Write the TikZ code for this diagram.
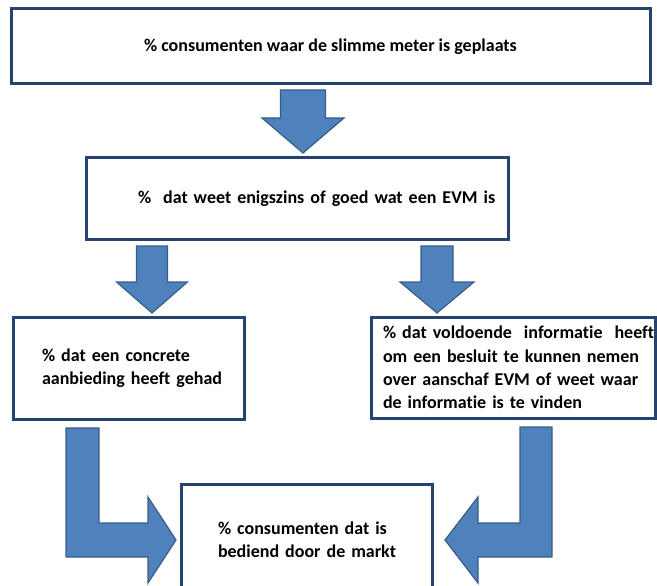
\documentclass[tikz,border=0pt]{standalone}
\usepackage{fontspec}
\setmainfont[Ligatures=NoCommon]{Carlito}
\usetikzlibrary{calc}

\definecolor{boxblue}{RGB}{38,66,112}
\definecolor{arrowfill}{RGB}{79,129,189}
\definecolor{arrowline}{RGB}{56,93,138}

\tikzset{
	box/.style={draw=boxblue, line width=3pt, fill=white, font=\bfseries\fontsize{18}{23.4}\selectfont},
	fatarrow/.style={fill=arrowfill, draw=arrowline, line width=1.2pt, line join=miter},
}

% fat arrow pointing down: #1 start, #2 tip, #3 half shaft, #4 half head, #5 head length
\newcommand{\fatdown}[5]{%
	\draw[fatarrow] let \p1=(#1), \p2=(#2) in
		(\x1-#3pt,\y1) -- (\x1+#3pt,\y1) -- (\x1+#3pt,\y2+#5pt) -- (\x1+#4pt,\y2+#5pt)
		-- (\x1,\y2) -- (\x1-#4pt,\y2+#5pt) -- (\x1-#3pt,\y2+#5pt) -- cycle;}

\begin{document}
\begin{tikzpicture}[x=1pt, y=-1pt]
		\useasboundingbox (0,0) rectangle (657,586);
		\clip (0,0) rectangle (657,586);

		\node[box, minimum width=639pt, minimum height=75pt] (meter) at (330.5,46.5) {\% consumenten waar de slimme meter is geplaats};
		\node[box, minimum height=81pt, text width=318pt, inner xsep=52pt, align=left] (evm) at (297,198.5) {\mbox{\%\ \ dat weet enigszins of goed wat een EVM is}};

		\node[box, minimum height=102pt, text width=173pt, inner xsep=29pt, align=left] (aanbod) at (128.5,368) {\mbox{\% dat een concrete}\\\mbox{aanbieding heeft gehad}};
		\node[box, minimum height=101pt, text width=260pt, inner xsep=12pt, align=left] (info) at (513,367.5) {\mbox{\% dat voldoende\ \ informatie\ \ heeft}\\\mbox{om een besluit te kunnen nemen}\\\mbox{over aanschaf EVM of weet waar}\\\mbox{de informatie is te vinden}};

		\node[box, minimum height=112pt, text width=177pt, inner xsep=37pt, align=left] (markt) at (306.5,540) {\mbox{\% consumenten dat is}\\\mbox{bediend door de markt}};

		% arrows down
		\fatdown{[xshift=-27.5pt,yshift=-4.5pt]meter.south}{[yshift=3.5pt]evm.north}{22.5}{41}{35}
		\fatdown{[xshift=-145pt,yshift=-5.5pt]evm.south}{[yshift=2.5pt]aanbod.north}{15.5}{35.5}{31}
		\fatdown{[xshift=140pt,yshift=-5.5pt]evm.south}{[yshift=2.5pt]info.north}{16}{37}{31}

		% bent arrows into the market box
		\draw[fatarrow] let \p1=([yshift=-7.5pt]aanbod.south west), \p2=(markt.west) in
			(\x1+54.5pt,\y1) -- (\x1+87.5pt,\y1) -- (\x1+87.5pt,\y2+17pt) -- (\x2-31.5pt,\y2+17pt)
			-- (\x2-31.5pt,\y2+43pt) -- (\x2-3.5pt,\y2) -- (\x2-31.5pt,\y2-43pt)
			-- (\x2-31.5pt,\y2-17pt) -- (\x1+54.5pt,\y2-17pt) -- cycle;
		\draw[fatarrow] let \p1=([yshift=-7.5pt]info.south west), \p2=(markt.east) in
			(\x1+182.5pt,\y1) -- (\x1+150.5pt,\y1) -- (\x1+150.5pt,\y2+17pt) -- (\x2+44.5pt,\y2+17pt)
			-- (\x2+44.5pt,\y2+43pt) -- (\x2+11.5pt,\y2) -- (\x2+44.5pt,\y2-43pt)
			-- (\x2+44.5pt,\y2-17pt) -- (\x1+182.5pt,\y2-17pt) -- cycle;
	\end{tikzpicture}
\end{document}
